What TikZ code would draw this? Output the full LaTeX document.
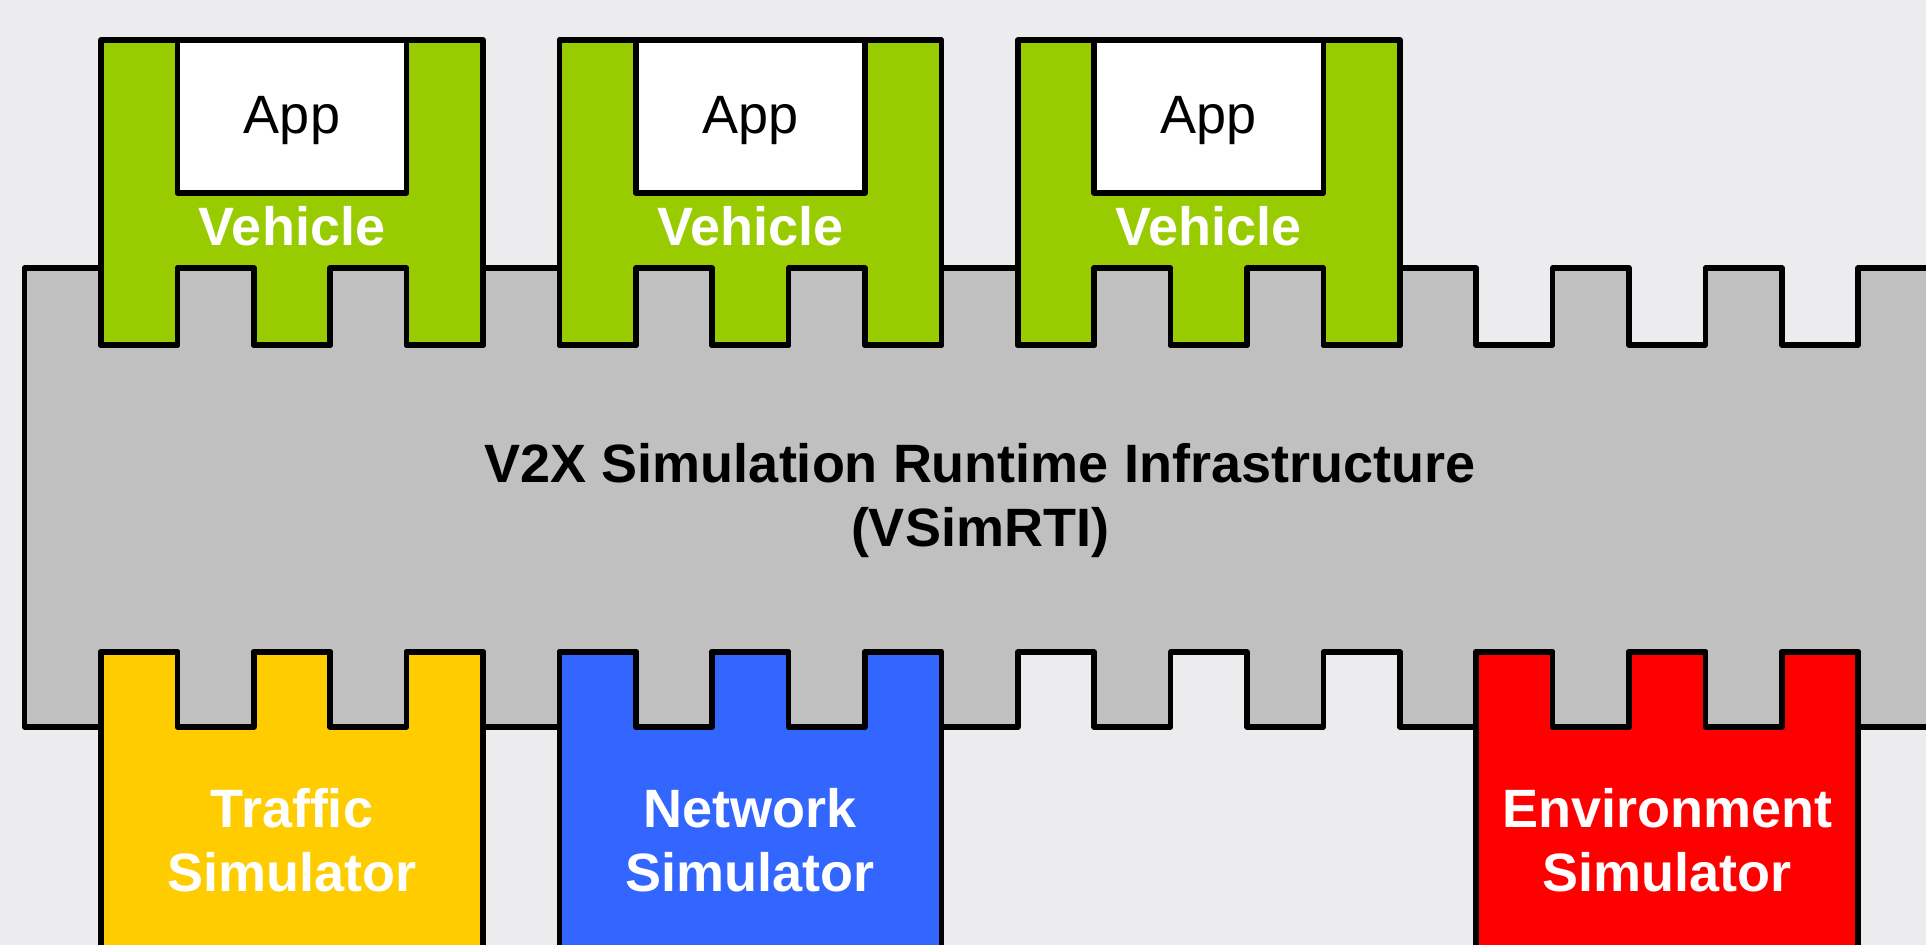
\documentclass[tikz,border=0pt]{standalone}
\usepackage{fontspec}
\setmainfont{Liberation Sans}
\definecolor{bgc}{RGB}{236,236,238}
\definecolor{rtigray}{RGB}{192,192,192}
\definecolor{vehgreen}{RGB}{153,204,0}
\definecolor{trafyellow}{RGB}{255,204,0}
\definecolor{netblue}{RGB}{51,102,255}
\definecolor{envred}{RGB}{255,0,0}
\newcommand\gx[1]{101+(#1)*76.4}
\tikzset{
  outline/.style={draw=black, line width=2.75pt, line join=round},
  bigtext/.style={font=\fontsize{27}{32}\selectfont, inner sep=0pt, align=center},
  whitelabel/.style={bigtext, font=\fontsize{27}{32}\selectfont\bfseries, text=white},
}
\begin{document}
\begin{tikzpicture}[x=0.5pt,y=-0.5pt]
\useasboundingbox (0,0) rectangle (1926,945);
\clip (0,0) rectangle (1926,945);
\fill[bgc] (0,0) rectangle (1926,945);
% RTI body
\path[outline, fill=rtigray] (24.5,268)
  foreach \i in {0,...,11} { -- ({\gx{2*\i}},268) -- ({\gx{2*\i}},345) -- ({\gx{2*\i+1}},345) -- ({\gx{2*\i+1}},268) }
  -- (2010,268) -- (2010,727)
  foreach \i in {11,...,0} { -- ({\gx{2*\i+1}},727) -- ({\gx{2*\i+1}},652) -- ({\gx{2*\i}},652) -- ({\gx{2*\i}},727) }
  -- (24.5,727) -- cycle;
\node[bigtext, font=\fontsize{27}{32}\selectfont\bfseries, anchor=base] (rti) at (980,547) {V2X Simulation Runtime Infrastructure\\(VSimRTI)};
% Vehicles
\foreach \s/\n in {0/a,6/b,12/c} {
  \path[outline, fill=vehgreen] ({\gx{\s}},40) -- ({\gx{\s+5}},40) -- ({\gx{\s+5}},345)
    -- ({\gx{\s+4}},345) -- ({\gx{\s+4}},268) -- ({\gx{\s+3}},268) -- ({\gx{\s+3}},345)
    -- ({\gx{\s+2}},345) -- ({\gx{\s+2}},268) -- ({\gx{\s+1}},268) -- ({\gx{\s+1}},345)
    -- ({\gx{\s}},345) -- cycle;
  \path[outline, fill=white] ({\gx{\s+1}},40) rectangle ({\gx{\s+4}},193);
  \node[bigtext, anchor=base] (app\n) at ({\gx{\s}+191},134) {App};
  \node[whitelabel, anchor=base] (veh\n) at ({\gx{\s}+191},246) {Vehicle};
}
% Simulators
\foreach \s/\c/\n/\t in {0/trafyellow/traf/Traffic, 6/netblue/net/Network, 18/envred/env/Environment} {
  \path[outline, fill=\c] ({\gx{\s}},1010) -- ({\gx{\s}},652) -- ({\gx{\s+1}},652) -- ({\gx{\s+1}},727)
    -- ({\gx{\s+2}},727) -- ({\gx{\s+2}},652) -- ({\gx{\s+3}},652) -- ({\gx{\s+3}},727)
    -- ({\gx{\s+4}},727) -- ({\gx{\s+4}},652) -- ({\gx{\s+5}},652) -- ({\gx{\s+5}},1010) -- cycle;
  \node[whitelabel, anchor=base] (\n) at ({\gx{\s}+191},891) {\t\\Simulator};
}
\end{tikzpicture}
\end{document}
